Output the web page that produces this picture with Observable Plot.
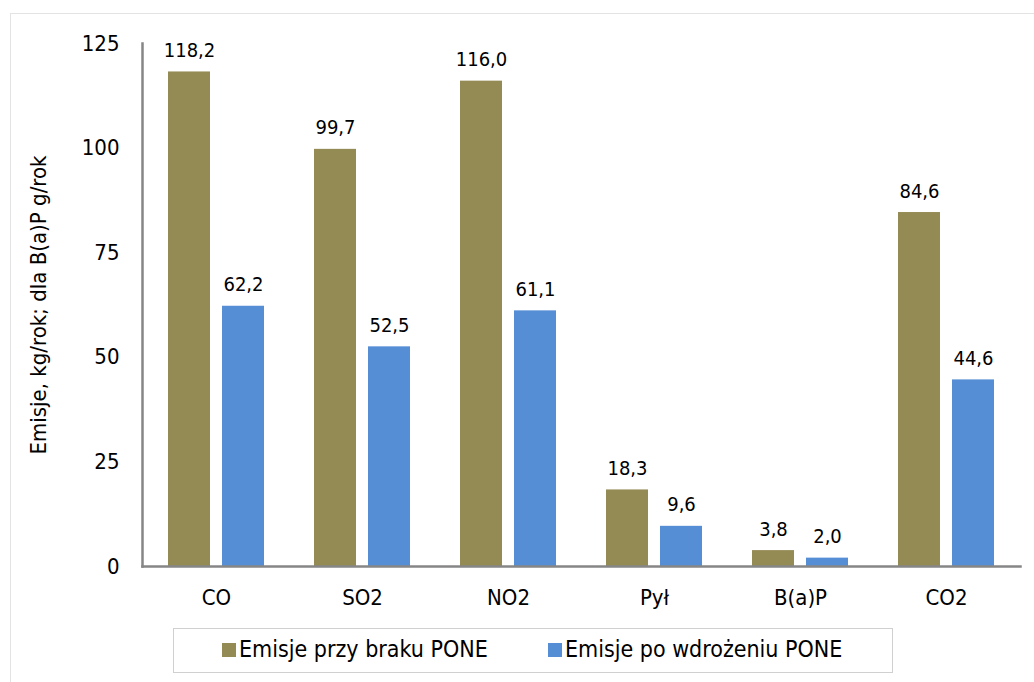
<!DOCTYPE html>
<html><head><meta charset="utf-8">
<script src="https://cdn.jsdelivr.net/npm/d3@7"></script>
<script src="https://cdn.jsdelivr.net/npm/@observablehq/plot@0.6"></script>
<style>
body{margin:0;background:#fff;font-family:"DejaVu Sans Condensed","DejaVu Sans",sans-serif;font-stretch:condensed;}
#wrap{position:relative;width:1034px;height:682px;overflow:hidden;}
#border{position:absolute;left:10px;top:13px;width:1100px;height:800px;border:1.5px solid #e3e3e3;box-sizing:border-box;}
#chart{position:absolute;left:0;top:0;}
#legend{position:absolute;left:173px;top:628px;width:720px;height:45px;border:1px solid #d0d0d0;box-sizing:border-box;background:#fff;font-size:23px;color:#000;}
.item{position:absolute;top:7px;white-space:nowrap;}
.sw{display:inline-block;width:14px;height:14px;margin-right:3px;vertical-align:0px;}
</style></head>
<body><div id="wrap"><div id="border"></div><div id="chart"></div>
<div id="legend"></div></div>
<script>
const categories = ["CO","SO2","NO2","Pył","B(a)P","CO2"];
const seriesNames = ["Emisje przy braku PONE","Emisje po wdrożeniu PONE"];
const before = [118.2, 99.7, 116.0, 18.3, 3.8, 84.6];
const after = [62.2, 52.5, 61.1, 9.6, 2.0, 44.6];
const yTicks = [0,25,50,75,100,125];
const colors = ["#948A54","#558ED5"];

const fmt = v => v.toFixed(1).replace(".", ",");
const rowsB = categories.map((c,i)=>({cat:c, v:before[i]}));
const rowsA = categories.map((c,i)=>({cat:c, v:after[i]}));

const chart = Plot.plot({
  width: 1034, height: 616,
  marginTop: 43, marginBottom: 50, marginLeft: 142, marginRight: 14,
  style: {fontFamily: '"DejaVu Sans Condensed","DejaVu Sans",sans-serif', fontStretch:"condensed", color:"#000", background:"transparent"},
  x: {domain: categories, padding: 0, label: null},
  y: {domain: [0,125], label: null},
  marks: [
    Plot.barY(rowsB, {x:"cat", y:"v", fill: colors[0], insetLeft:25, insetRight:79}),
    Plot.barY(rowsA, {x:"cat", y:"v", fill: colors[1], insetLeft:79, insetRight:25}),
    Plot.text(rowsB, {x:"cat", y:"v", text: d=>fmt(d.v), dx:-27, dy:-15, lineAnchor:"bottom", fontSize:20, fill:"#000"}),
    Plot.text(rowsA, {x:"cat", y:"v", text: d=>fmt(d.v), dx:27, dy:-15, lineAnchor:"bottom", fontSize:20, fill:"#000"}),
    Plot.frame({anchor:"left", stroke:"#868686", strokeWidth:2.5}),
    Plot.frame({anchor:"bottom", stroke:"#868686", strokeWidth:2.5}),
    Plot.axisY({ticks: yTicks, tickSize:0, tickPadding:23, fontSize:22, label:"Emisje, kg/rok; dla B(a)P g/rok", labelAnchor:"center", labelArrow:"none", labelOffset:112}),
    Plot.axisX({tickSize:0, tickPadding:23, fontSize:22, label:null})
  ]
});
chart.querySelectorAll('[aria-label="y-axis label"] text').forEach(t=>t.setAttribute("font-size","22"));
document.getElementById("chart").appendChild(chart);

const lg = document.getElementById("legend");
const pos = [48, 374];
seriesNames.forEach((n,i)=>{
  const d = document.createElement("div");
  d.className="item"; d.style.left = pos[i]+"px";
  d.innerHTML = `<span class="sw" style="background:${colors[i]}"></span>${n}`;
  lg.appendChild(d);
});
</script></body></html>
